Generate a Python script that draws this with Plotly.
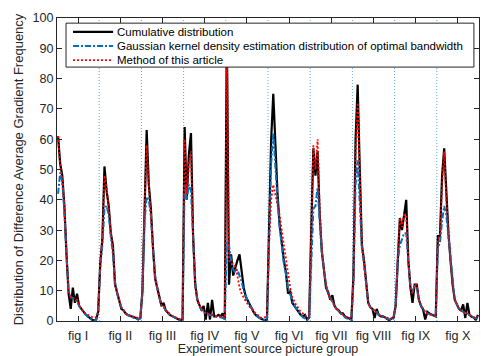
import plotly.graph_objects as go

groups = ["fig I", "fig II", "fig III", "fig IV", "fig V", "fig VI", "fig VII", "fig VIII", "fig IX", "fig X"]
pts_per_group = 20

cumulative = [
    # fig I
    61, 52, 48, 38, 22, 9, 4, 11, 6, 9, 5, 4, 2.8, 2.2, 1.6, 1.0, 0.5, 0.2, 0.3, 3,
    # fig II
    19, 27, 51, 43, 38, 29, 25, 12, 9, 7, 4, 3.5, 2.5, 2, 1.8, 1.5, 1.2, 1, 0.5, 1,
    # fig III
    10, 40, 63, 45, 37, 24, 14, 11, 7.5, 5, 6, 3.5, 2.8, 2, 1.6, 1.2, 0.9, 0.6, 0.3, 0.5,
    # fig IV
    64, 40, 55, 62, 28, 12, 7, 5, 3.5, 5, 0.5, 6, 0.5, 7, 1.5, 1.5, 2, 1.5, 2.5, 0.5,
    # fig V
    95, 12, 22, 15, 18, 20, 22, 16, 11, 8, 6.5, 5.5, 4, 2.5, 1.8, 1.2, 0.8, 0.5, 0.3, 0.5,
    # fig VI
    30, 60, 75, 55, 42, 32, 25, 20, 16, 9, 10, 6, 5, 4, 3, 2, 1.5, 2, 0.5, 1.2,
    # fig VII
    30, 57, 48, 56, 35, 23, 17, 11, 9.5, 7, 8.5, 5, 4, 3.5, 2.5, 2.5, 1.5, 1, 0.8, 0.5,
    # fig VIII
    15, 60, 78, 50, 25, 20, 12, 6, 4.5, 4, 1, 4, 2, 1.5, 1.5, 1.2, 0.6, 0.3, 0.8, 1.2,
    # fig IX
    5, 22, 34, 30, 35, 40, 20, 11, 6, 12, 12, 7, 5, 3.8, 0.5, 3, 2.5, 2, 1.8, 1.5,
    # fig X
    28, 28, 48, 57, 42, 29, 20, 12, 7, 5.5, 4, 3.5, 5.5, 1, 6, 2, 1.4, 1.2, 0.3, 2,
]

gaussian_kde = [
    # fig I
    42, 49, 46, 36, 22, 10, 8, 7.5, 7, 6.5, 5, 4, 3, 2.2, 1.5, 0.8, 0.4, 0.2, 0.2, 3,
    # fig II
    18, 25, 37, 38, 35, 28, 22, 13, 9, 6.5, 4.5, 3.5, 2.5, 2, 1.6, 1.2, 1, 0.8, 0.5, 0.8,
    # fig III
    10, 33, 41, 40, 35, 24, 15, 11, 7.5, 5, 4.5, 3.5, 2.8, 2, 1.6, 1.2, 0.9, 0.6, 0.3, 0.4,
    # fig IV
    45, 40, 45, 43, 28, 13, 7, 5, 3.5, 3, 2.5, 2.2, 2, 2, 1.8, 1.5, 1.2, 1.2, 1, 0.8,
    # fig V
    26, 25, 20, 17, 16, 17, 15, 13, 10, 8, 6.5, 5, 4, 2.5, 1.8, 1.2, 0.8, 0.5, 0.3, 0.5,
    # fig VI
    28, 52, 62, 50, 40, 31, 24, 19, 15.5, 11, 9, 6.5, 5, 4, 3, 2, 1.2, 0.8, 0.5, 0.6,
    # fig VII
    22, 37, 38, 44, 33, 23, 17, 12, 9, 7.5, 6.5, 5, 4, 3.2, 2.5, 2, 1.2, 0.8, 0.5, 0.4,
    # fig VIII
    12, 45, 53, 40, 24, 19, 12, 6, 4.5, 4, 3, 3, 2, 1.5, 1.3, 1.1, 0.8, 0.5, 0.5, 0.8,
    # fig IX
    5, 20, 25, 27, 29, 29, 20, 11, 10, 11.5, 11, 7, 5, 3.8, 3, 2.5, 2.2, 2, 1.8, 1.5,
    # fig X
    24, 26, 33, 38, 35, 28, 20, 12, 7, 5.5, 4, 3.5, 3, 2.5, 2.2, 2, 1.5, 1.2, 0.8, 1.5,
]

this_method = [
    # fig I
    61, 51, 47, 37, 22, 10, 8, 8, 7, 7, 5, 4, 3, 2.5, 2, 1.6, 1.3, 1.2, 1.2, 3,
    # fig II
    19, 27, 48, 44, 38, 29, 24, 12, 9, 7, 4.5, 3.5, 2.5, 2, 1.8, 1.5, 1.5, 1.2, 1.0, 1.5,
    # fig III
    10, 38, 58, 45, 36, 24, 14, 11, 7.5, 5, 5, 3.5, 2.8, 2.2, 1.8, 1.4, 1.1, 0.8, 0.6, 0.8,
    # fig IV
    60, 42, 52, 56, 28, 12, 7, 5, 4, 3.5, 2.5, 2.5, 2, 2.2, 1.8, 1.6, 1.5, 1.5, 1.5, 1,
    # fig V
    92, 20, 19, 19, 18, 15, 11, 9, 7.5, 6.5, 5.5, 4.5, 4, 3, 2.2, 1.8, 1.2, 1, 1.2, 1.5,
    # fig VI
    25, 40, 45, 42, 39, 35, 30, 25, 20, 15, 11, 8, 6.5, 5, 4.2, 3, 2.5, 1.8, 1.2, 1,
    # fig VII
    28, 58, 50, 60, 37, 24, 17, 12, 9, 8, 6.5, 5, 4, 3.2, 2.5, 2, 1.5, 1.2, 1, 0.8,
    # fig VIII
    14, 55, 72, 48, 25, 19, 12, 6, 4.5, 4, 3.5, 3, 2, 1.6, 1.4, 1.2, 1, 0.8, 0.8, 1,
    # fig IX
    5, 22, 34, 31, 35, 35, 20, 11, 9, 12, 12, 7, 5, 3.8, 3, 2.5, 2.2, 2, 1.8, 1.6,
    # fig X
    27, 28, 45, 56, 40, 29, 20, 12, 7, 5.5, 4, 3.5, 3, 2.5, 2.5, 2, 1.5, 1.2, 1, 1.5,
]

series_names = [
    "Cumulative distribution",
    "Gaussian kernel density estimation distribution of optimal bandwidth",
    "Method of this article",
]

x_vals = list(range(len(cumulative)))
n_groups = len(groups)
tick_pos = [g * pts_per_group + (pts_per_group - 1) / 2 for g in range(n_groups)]
sep_pos = [g * pts_per_group - 0.5 for g in range(1, n_groups)]

AX = "#262626"
FONT = "Liberation Sans"
BLUE = "#0072BD"
RED = "#FF0000"

fig = go.Figure()
styles = [
    dict(color="#000000", width=2.2, dash="solid"),
    dict(color=BLUE, width=2, dash="6px,2px,2px,2px"),
    dict(color=RED, width=1.8, dash="2px,2px"),
]
for name, ys, st in zip(series_names, [cumulative, gaussian_kde, this_method], styles):
    fig.add_trace(go.Scatter(x=x_vals, y=ys, mode="lines", name=name, line=st,
                             showlegend=False, cliponaxis=True))

shapes = []
for s in sep_pos:
    shapes.append(dict(type="line", xref="x", yref="paper", x0=s, x1=s, y0=0, y1=1,
                       line=dict(color="rgba(40,140,215,0.75)", width=1, dash="1px,2px"),
                       layer="below"))

# manual legend (paper coordinates)
lg_x0, lg_x1, lg_y0, lg_y1 = 0.0214, 0.988, 0.838, 0.983
shapes.append(dict(type="rect", xref="paper", yref="paper", x0=lg_x0, x1=lg_x1, y0=lg_y0, y1=lg_y1,
                   line=dict(color=AX, width=1), fillcolor="white", layer="above"))
row_y = [0.954, 0.908, 0.861]
annotations = []
for yy, st, name in zip(row_y, styles, series_names):
    shapes.append(dict(type="line", xref="paper", yref="paper", x0=0.038, x1=0.133, y0=yy, y1=yy,
                       line=dict(color=st["color"], width=st["width"], dash=st["dash"]), layer="above"))
    annotations.append(dict(xref="paper", yref="paper", x=0.1425, y=yy, text=name, showarrow=False,
                            xanchor="left", yanchor="middle", xshift=-2,
                            font=dict(family=FONT, size=11.5, color="#000000")))

fig.update_layout(
    width=481, height=356,
    margin=dict(l=57, r=2, t=18, b=35),
    paper_bgcolor="white", plot_bgcolor="white",
    font=dict(family=FONT, color=AX, size=12.6),
    shapes=shapes, annotations=annotations,
    showlegend=False,
)
fig.update_xaxes(
    range=[-0.5, n_groups * pts_per_group - 0.5], automargin=False,
    tickmode="array", tickvals=tick_pos, ticktext=groups,
    ticks="inside", ticklen=5, tickwidth=1, tickcolor=AX,
    showline=True, linecolor=AX, linewidth=1, mirror="ticks",
    showgrid=False, zeroline=False, ticklabelstandoff=3,
    tickfont=dict(family=FONT, size=12.6, color=AX),
    title=dict(text="Experiment source picture group", font=dict(family=FONT, size=12.5, color=AX), standoff=0),
)
fig.update_yaxes(
    range=[0, 100], automargin=False, tickmode="array", tickvals=list(range(0, 101, 10)),
    ticks="inside", ticklen=5, tickwidth=1, tickcolor=AX,
    showline=True, linecolor=AX, linewidth=1, mirror="ticks",
    showgrid=False, zeroline=False,
    tickfont=dict(family=FONT, size=12.6, color=AX),
    title=dict(text="Distribution of Difference Average Gradient Frequency",
               font=dict(family=FONT, size=13, color=AX), standoff=5),
)

fig.write_html("out.html", config={"displayModeBar": False},
               post_script="document.body.style.margin='0';document.body.style.padding='0';document.body.style.overflow='hidden';")
